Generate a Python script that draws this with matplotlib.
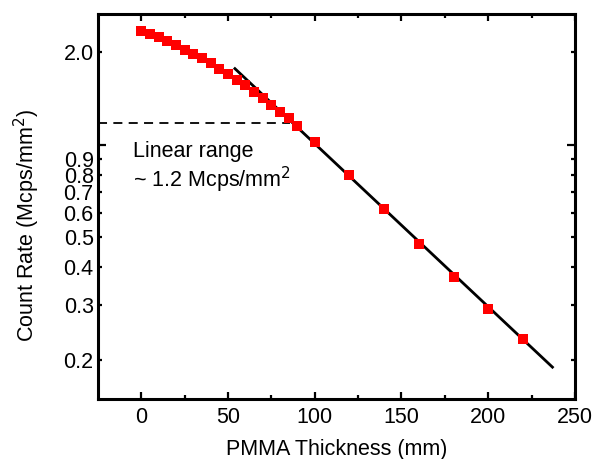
import numpy as np
import matplotlib
matplotlib.use('Agg')
import matplotlib.pyplot as plt
from matplotlib.ticker import FixedLocator, NullFormatter

plt.rcParams['font.family'] = ['Liberation Sans', 'DejaVu Sans']

# measured count rate vs PMMA thickness
thickness = [0, 5, 10, 15, 20, 25, 30, 35, 40, 45, 50, 55, 60, 65, 70, 75, 80, 85, 90,
             100, 120, 140, 160, 180, 200, 220]
rate = [2.34, 2.30, 2.24, 2.17, 2.11, 2.04, 1.98, 1.91, 1.85, 1.77, 1.70, 1.63, 1.56,
        1.49, 1.42, 1.35, 1.28, 1.22, 1.15, 1.02, 0.80, 0.62, 0.476, 0.372, 0.293, 0.234]

# exponential fit (straight on log axis), end points
fit_x = [54, 237]
fit_y = [1.77, 0.189]

# linear range limit
lin_limit = 1.18
lin_end_x = 86

ytick_vals = [0.2, 0.3, 0.4, 0.5, 0.6, 0.7, 0.8, 0.9, 2.0]
ytick_labels = ['0.2', '0.3', '0.4', '0.5', '0.6', '0.7', '0.8', '0.9', '2.0']

fs = 15.5

fig = plt.figure(figsize=(6.04, 4.59), dpi=100)
ax = fig.add_axes([0.162, 0.131, 0.790, 0.839])

ax.plot(fit_x, fit_y, color='black', lw=2, zorder=2)
ax.plot(thickness, rate, 's', color='#ff0000', ms=6.5, mew=0, zorder=3)
ax.plot([-25, lin_end_x], [lin_limit, lin_limit], color='black', lw=1.3,
        dashes=(5, 3.5), zorder=1)

ax.set_yscale('log')
ax.set_xlim(-25, 250)
ax.set_ylim(0.149, 2.67)

ax.set_xticks([0, 50, 100, 150, 200, 250])
ax.xaxis.set_minor_locator(FixedLocator([25, 75, 125, 175, 225]))

# labelled y ticks are short, the 1.0 tick is long and unlabelled
ax.yaxis.set_major_locator(FixedLocator(ytick_vals))
ax.set_yticklabels(ytick_labels)
ax.yaxis.set_minor_locator(FixedLocator([1.0]))
ax.yaxis.set_minor_formatter(NullFormatter())

ax.tick_params(axis='both', which='both', direction='in', top=True, right=True,
               labelsize=fs, width=1.6)
ax.tick_params(axis='x', which='major', length=5, pad=6)
ax.tick_params(axis='x', which='minor', length=3)
ax.tick_params(axis='y', which='major', length=3, pad=3)
ax.tick_params(axis='y', which='minor', length=6)

for s in ax.spines.values():
    s.set_linewidth(2.2)

ax.set_xlabel('PMMA Thickness (mm)', fontsize=fs, labelpad=8)
ax.set_ylabel('Count Rate (Mcps/mm$^2$)', fontsize=fs)
ax.yaxis.set_label_coords(-0.117, 0.45)

ax.text(0.073, 0.642, 'Linear range', transform=ax.transAxes, fontsize=fs, va='center')
ax.text(0.073, 0.569, '~ 1.2 Mcps/mm$^2$', transform=ax.transAxes, fontsize=fs, va='center')

fig.savefig('out.png', dpi=100)
